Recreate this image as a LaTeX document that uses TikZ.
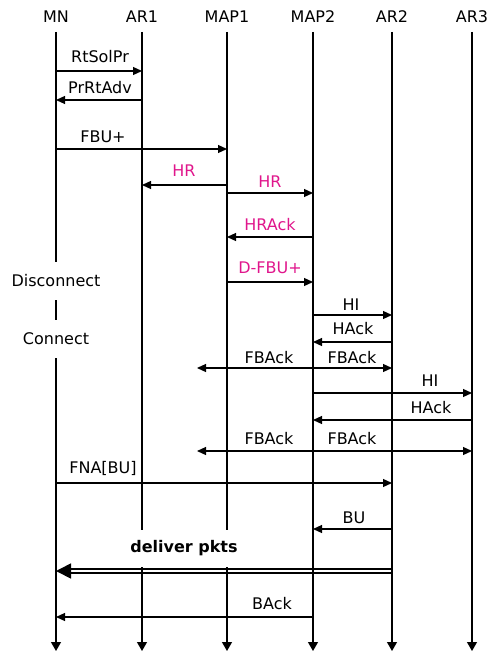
\documentclass[tikz,border=0pt]{standalone}
\usepackage{fontspec}
\setmainfont{DejaVu Sans}
\usetikzlibrary{arrows.meta}
\definecolor{hrpink}{HTML}{E0168C}

\begin{document}
\begin{tikzpicture}[
    x=1pt, y=-1pt,
    font=\fontsize{16}{19}\selectfont,
    head/.style={anchor=base, inner sep=0pt},
    lbl/.style={anchor=base, inner sep=0pt},
    hrlbl/.style={lbl, text=hrpink},
    gapnode/.style={inner sep=0pt, minimum height=38pt},
    lifeseg/.style={line width=1.2pt},
    life/.style={line width=1.2pt, -{Triangle[length=9pt, width=10pt]}},
    msg/.style={line width=1.2pt, -{Triangle[length=9pt, width=8pt]}},
    bigmsg/.style={double, line width=1.7pt, double distance=1.8pt, -{Triangle[length=15pt, width=15pt]}}
]
\useasboundingbox (0,0) rectangle (492,652);

% Headers
\node[head] (MN) at (56,23) {MN};
\node[head] (AR1) at (142,23) {AR1};
\node[head] (MAP1) at (227,23) {MAP1};
\node[head] (MAP2) at (313,23) {MAP2};
\node[head] (AR2) at (392,23) {AR2};
\node[head] (AR3) at (472,23) {AR3};

% Gaps in the lifelines
\node[gapnode] (disc) at (56,281) {Disconnect};
\node[gapnode] (conn) at (56,339) {Connect};
\node[gapnode, minimum height=37pt, font=\fontsize{16}{19}\selectfont\bfseries] (deliver) at (184,548.5) {deliver pkts};

% Packets (under the lifelines)
\draw[bigmsg] (AR2 |- 0,571) -- (MN |- 0,571);

% Lifelines
\draw[lifeseg] (MN |- 0,32) -- (disc.north);
\draw[lifeseg] (disc.south) -- (conn.north);
\draw[life] (conn.south) -- (MN |- 0,651);
\foreach \n in {AR1,MAP1} {
    \draw[lifeseg] (\n |- 0,32) -- (\n |- deliver.north);
    \draw[life] (\n |- deliver.south) -- (\n |- 0,651);
}
\foreach \n in {MAP2,AR2,AR3}
    \draw[life] (\n |- 0,32) -- (\n |- 0,651);

% Router solicitation
\draw[msg] (MN |- 0,71) -- (AR1 |- 0,71);
\node[lbl] (rtsolpr) at (100,63) {RtSolPr};
\draw[msg] (AR1 |- 0,100) -- (MN |- 0,100);
\node[lbl] (prrtadv) at (100,94) {PrRtAdv};
\draw[msg] (MN |- 0,149) -- (MAP1 |- 0,149);
\node[lbl] (fbu) at (103,143) {FBU+};

% Handover between MAPs
\draw[msg] (MAP1 |- 0,185) -- (AR1 |- 0,185);
\node[hrlbl] (hrA) at (184,177) {HR};
\draw[msg] (MAP1 |- 0,193) -- (MAP2 |- 0,193);
\node[hrlbl] (hrB) at (270,188) {HR};
\draw[msg] (MAP2 |- 0,237) -- (MAP1 |- 0,237);
\node[hrlbl] (hrack) at (270,230) {HRAck};
\draw[msg] (MAP1 |- 0,282) -- (MAP2 |- 0,282);
\node[hrlbl] (dfbu) at (270,273) {D-FBU+};

% AR2
\draw[msg] (MAP2 |- 0,315) -- (AR2 |- 0,315);
\node[lbl] (hiA) at (351,310) {HI};
\draw[msg] (AR2 |- 0,342) -- (MAP2 |- 0,342);
\node[lbl] (hackA) at (353,334) {HAck};
\coordinate (fbendA) at (197,368);
\draw[msg] (MAP2 |- 0,368) -- (fbendA);
\draw[msg] (MAP2 |- 0,368) -- (AR2 |- 0,368);
\node[lbl] (fbackA) at (269,363) {FBAck};
\node[lbl] (fbackB) at (352,363) {FBAck};

% AR3
\draw[msg] (MAP2 |- 0,393) -- (AR3 |- 0,393);
\node[lbl] (hiB) at (430,386) {HI};
\draw[msg] (AR3 |- 0,420) -- (MAP2 |- 0,420);
\node[lbl] (hackB) at (431,413) {HAck};
\coordinate (fbendB) at (197,451);
\draw[msg] (MAP2 |- 0,451) -- (fbendB);
\draw[msg] (MAP2 |- 0,451) -- (AR3 |- 0,451);
\node[lbl] (fbackC) at (269,444) {FBAck};
\node[lbl] (fbackD) at (352,444) {FBAck};

% Binding
\draw[msg] (MN |- 0,483) -- (AR2 |- 0,483);
\node[lbl] (fna) at (103,473) {FNA[BU]};
\draw[msg] (AR2 |- 0,529) -- (MAP2 |- 0,529);
\node[lbl] (bu) at (354,523) {BU};
\draw[msg] (MAP2 |- 0,617) -- (MN |- 0,617);
\node[lbl] (back) at (272,609) {BAck};

\end{tikzpicture}
\end{document}
